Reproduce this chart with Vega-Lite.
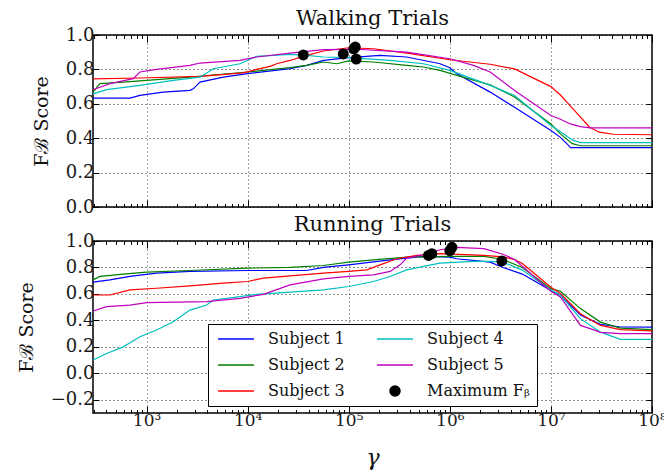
{
"$schema": "https://vega.github.io/schema/vega-lite/v6.json",
"autosize": {"type": "pad"},
"padding": {"left": 16, "top": 7, "right": 0, "bottom": 2},
"bounds": "flush",
"spacing": 34,
"config": {
  "font": "DejaVu Serif",
  "view": {"stroke": "#000", "strokeWidth": 1.5},
  "axis": {"domain": false, "labelFont": "DejaVu Serif", "labelFontSize": 18, "labelColor": "#1a1a1a", "tickColor": "#000", "tickWidth": 1, "gridColor": "#000", "gridDash": [1, 3], "gridWidth": 1, "gridOpacity": 0.85, "titleFont": "DejaVu Serif", "titleFontWeight": "normal", "titleColor": "#111"},
  "title": {"font": "DejaVu Serif", "fontSize": 21, "fontWeight": "normal", "color": "#111"}
},
"resolve": {"scale": {"color": "independent", "shape": "independent"}},
"vconcat": [
 {
  "width": 559, "height": 172,
  "title": {"text": "Walking Trials", "offset": -3},
  "layer": [
   {
    "data": {"name": "walk"},
    "mark": {"type": "line", "strokeWidth": 1.2},
    "encoding": {
     "x": {"field": "gamma", "type": "quantitative", "scale": {"type": "log", "domain": [295, 100000000], "nice": false},
       "axis": {"orient": "bottom", "title": null, "labels": false,
         "values": [300,400,500,600,700,800,900,1000,2000,3000,4000,5000,6000,7000,8000,9000,10000,20000,30000,40000,50000,60000,70000,80000,90000,100000,200000,300000,400000,500000,600000,700000,800000,900000,1000000,2000000,3000000,4000000,5000000,6000000,7000000,8000000,9000000,10000000,20000000,30000000,40000000,50000000,60000000,70000000,80000000,90000000,100000000],
         "tickSize": {"condition": {"test": "datum.value==1000||datum.value==10000||datum.value==100000||datum.value==1000000||datum.value==10000000||datum.value==100000000", "value": -7}, "value": -3.5},
         "gridOpacity": {"condition": {"test": "datum.value==1000||datum.value==10000||datum.value==100000||datum.value==1000000||datum.value==10000000", "value": 0.85}, "value": 0}}},
     "y": {"field": "score", "type": "quantitative", "scale": {"domain": [0, 1], "nice": false},
       "axis": {"title": "Fℬ Score", "titleFontSize": 19, "titlePadding": 14, "values": [0, 0.2, 0.4, 0.6, 0.8, 1.0], "format": ".1f", "tickSize": -6, "labelPadding": 5}},
     "color": {"field": "series", "type": "nominal", "legend": null,
       "scale": {"domain": ["Subject 1", "Subject 2", "Subject 3", "Subject 4", "Subject 5"], "range": ["#0000ff", "#008000", "#ff0000", "#00bfbf", "#bf00bf"]}}
    }
   },
   {
    "data": {"name": "walkMax"},
    "mark": {"type": "point", "filled": true, "size": 120, "opacity": 1, "color": "#000"},
    "encoding": {
     "x": {"field": "gamma", "type": "quantitative",
       "axis": {"orient": "top", "title": null, "labels": false, "grid": false,
         "values": [300,400,500,600,700,800,900,1000,2000,3000,4000,5000,6000,7000,8000,9000,10000,20000,30000,40000,50000,60000,70000,80000,90000,100000,200000,300000,400000,500000,600000,700000,800000,900000,1000000,2000000,3000000,4000000,5000000,6000000,7000000,8000000,9000000,10000000,20000000,30000000,40000000,50000000,60000000,70000000,80000000,90000000,100000000],
         "tickSize": {"condition": {"test": "datum.value==1000||datum.value==10000||datum.value==100000||datum.value==1000000||datum.value==10000000||datum.value==100000000", "value": -7}, "value": -3.5}}},
     "y": {"field": "score", "type": "quantitative",
       "axis": {"orient": "right", "title": null, "labels": false, "grid": false, "values": [0, 0.2, 0.4, 0.6, 0.8, 1.0], "tickSize": -6}}
    }
   }
  ],
  "resolve": {"axis": {"x": "independent", "y": "independent"}}
 },
 {
  "width": 559, "height": 172,
  "title": {"text": "Running Trials", "offset": -3},
  "layer": [
   {
    "data": {"name": "run"},
    "mark": {"type": "line", "strokeWidth": 1.2},
    "encoding": {
     "x": {"field": "gamma", "type": "quantitative", "scale": {"type": "log", "domain": [295, 100000000], "nice": false},
       "axis": {"orient": "bottom", "title": "γ", "titleFontSize": 22, "titleFontStyle": "italic", "titlePadding": 16, "labelFontSize": 17, "labelPadding": 6, "labelOverlap": false, "labelBound": false, "labelFlush": false,
         "labelExpr": "datum.value==1000?'10³':datum.value==10000?'10⁴':datum.value==100000?'10⁵':datum.value==1000000?'10⁶':datum.value==10000000?'10⁷':datum.value==100000000?'10⁸':''",
         "values": [300,400,500,600,700,800,900,1000,2000,3000,4000,5000,6000,7000,8000,9000,10000,20000,30000,40000,50000,60000,70000,80000,90000,100000,200000,300000,400000,500000,600000,700000,800000,900000,1000000,2000000,3000000,4000000,5000000,6000000,7000000,8000000,9000000,10000000,20000000,30000000,40000000,50000000,60000000,70000000,80000000,90000000,100000000],
         "tickSize": {"condition": {"test": "datum.value==1000||datum.value==10000||datum.value==100000||datum.value==1000000||datum.value==10000000||datum.value==100000000", "value": -7}, "value": -3.5},
         "gridOpacity": {"condition": {"test": "datum.value==1000||datum.value==10000||datum.value==100000||datum.value==1000000||datum.value==10000000", "value": 0.85}, "value": 0}}},
     "y": {"field": "score", "type": "quantitative", "scale": {"domain": [-0.3, 1], "nice": false},
       "axis": {"title": "Fℬ Score", "titleFontSize": 19, "titlePadding": 14, "values": [-0.2, 0, 0.2, 0.4, 0.6, 0.8, 1.0], "format": ".1f", "tickSize": -6, "labelPadding": 5}},
     "color": {"field": "series", "type": "nominal",
       "scale": {"domain": ["Subject 1", "Subject 2", "Subject 3", "Subject 4", "Subject 5", "Maximum Fᵦ"], "range": ["#0000ff", "#008000", "#ff0000", "#00bfbf", "#bf00bf", "#000000"]},
       "legend": {"orient": "none", "legendX": 115, "legendY": 83, "title": null, "columns": 2, "symbolSize": 100, "symbolStrokeWidth": 1.5, "labelFontSize": 16, "labelFont": "DejaVu Serif", "labelColor": "#111", "strokeColor": "#000", "fillColor": "#fff", "padding": 7, "rowPadding": 10, "columnPadding": 29, "symbolOffset": 13, "labelOffset": 24, "gridAlign": "each"}}
    }
   },
   {
    "data": {"name": "runMax"},
    "mark": {"type": "point", "filled": true, "size": 120, "opacity": 1},
    "encoding": {
     "x": {"field": "gamma", "type": "quantitative",
       "axis": {"orient": "top", "title": null, "labels": false, "grid": false,
         "values": [300,400,500,600,700,800,900,1000,2000,3000,4000,5000,6000,7000,8000,9000,10000,20000,30000,40000,50000,60000,70000,80000,90000,100000,200000,300000,400000,500000,600000,700000,800000,900000,1000000,2000000,3000000,4000000,5000000,6000000,7000000,8000000,9000000,10000000,20000000,30000000,40000000,50000000,60000000,70000000,80000000,90000000,100000000],
         "tickSize": {"condition": {"test": "datum.value==1000||datum.value==10000||datum.value==100000||datum.value==1000000||datum.value==10000000||datum.value==100000000", "value": -7}, "value": -3.5}}},
     "y": {"field": "score", "type": "quantitative",
       "axis": {"orient": "right", "title": null, "labels": false, "grid": false, "values": [-0.2, 0, 0.2, 0.4, 0.6, 0.8, 1.0], "tickSize": -6}},
     "color": {"field": "series", "type": "nominal"},
     "shape": {"field": "series", "type": "nominal",
       "scale": {"domain": ["Subject 1", "Subject 2", "Subject 3", "Subject 4", "Subject 5", "Maximum Fᵦ"], "range": ["M-3.6,0L3.6,0", "M-3.6,0L3.6,0", "M-3.6,0L3.6,0", "M-3.6,0L3.6,0", "M-3.6,0L3.6,0", "circle"]},
       "legend": {"orient": "none", "legendX": 115, "legendY": 83, "title": null, "columns": 2, "symbolSize": 100, "symbolStrokeWidth": 1.5, "labelFontSize": 16, "labelFont": "DejaVu Serif", "labelColor": "#111", "strokeColor": "#000", "fillColor": "#fff", "padding": 7, "rowPadding": 10, "columnPadding": 29, "symbolOffset": 13, "labelOffset": 24, "gridAlign": "each"}}
    }
   }
  ],
  "resolve": {"axis": {"x": "independent", "y": "independent"}}
 }
],
"datasets": {
 "walkMax": [
  {"series": "Maximum Fᵦ", "gamma": 35500, "score": 0.884},
  {"series": "Maximum Fᵦ", "gamma": 88300, "score": 0.89},
  {"series": "Maximum Fᵦ", "gamma": 116000, "score": 0.93},
  {"series": "Maximum Fᵦ", "gamma": 112000, "score": 0.92},
  {"series": "Maximum Fᵦ", "gamma": 118600, "score": 0.86}
 ],
 "runMax": [
  {"series": "Maximum Fᵦ", "gamma": 615000, "score": 0.891},
  {"series": "Maximum Fᵦ", "gamma": 664000, "score": 0.904},
  {"series": "Maximum Fᵦ", "gamma": 1000000, "score": 0.927},
  {"series": "Maximum Fᵦ", "gamma": 1050000, "score": 0.952},
  {"series": "Maximum Fᵦ", "gamma": 3270000, "score": 0.849}
 ],
 "walk": [
  {"series":"Subject 1","gamma":295,"score":0.633},{"series":"Subject 1","gamma":684,"score":0.633},{"series":"Subject 1","gamma":859,"score":0.649},{"series":"Subject 1","gamma":1462,"score":0.668},{"series":"Subject 1","gamma":2685,"score":0.678},{"series":"Subject 1","gamma":2897,"score":0.687},{"series":"Subject 1","gamma":3373,"score":0.726},{"series":"Subject 1","gamma":5741,"score":0.755},{"series":"Subject 1","gamma":10000,"score":0.775},{"series":"Subject 1","gamma":26240,"score":0.804},{"series":"Subject 1","gamma":38370,"score":0.823},{"series":"Subject 1","gamma":56110,"score":0.852},{"series":"Subject 1","gamma":100000,"score":0.868},{"series":"Subject 1","gamma":204200,"score":0.882},{"series":"Subject 1","gamma":374900,"score":0.872},{"series":"Subject 1","gamma":801700,"score":0.833},{"series":"Subject 1","gamma":1000000,"score":0.81},{"series":"Subject 1","gamma":1172000,"score":0.775},{"series":"Subject 1","gamma":2506000,"score":0.668},{"series":"Subject 1","gamma":4365000,"score":0.58},{"series":"Subject 1","gamma":10000000,"score":0.445},{"series":"Subject 1","gamma":12420000,"score":0.405},{"series":"Subject 1","gamma":14930000,"score":0.358},{"series":"Subject 1","gamma":15600000,"score":0.345},{"series":"Subject 1","gamma":100000000,"score":0.345},
  {"series":"Subject 2","gamma":295,"score":0.668},{"series":"Subject 2","gamma":345,"score":0.717},{"series":"Subject 2","gamma":588,"score":0.726},{"series":"Subject 2","gamma":1000,"score":0.736},{"series":"Subject 2","gamma":2685,"score":0.755},{"series":"Subject 2","gamma":10000,"score":0.785},{"series":"Subject 2","gamma":14290,"score":0.794},{"series":"Subject 2","gamma":26240,"score":0.81},{"series":"Subject 2","gamma":38370,"score":0.823},{"series":"Subject 2","gamma":56110,"score":0.843},{"series":"Subject 2","gamma":76030,"score":0.833},{"series":"Subject 2","gamma":100000,"score":0.849},{"series":"Subject 2","gamma":175400,"score":0.843},{"series":"Subject 2","gamma":374900,"score":0.823},{"series":"Subject 2","gamma":548300,"score":0.814},{"series":"Subject 2","gamma":801700,"score":0.794},{"series":"Subject 2","gamma":1172000,"score":0.765},{"series":"Subject 2","gamma":2506000,"score":0.71},{"series":"Subject 2","gamma":4365000,"score":0.64},{"series":"Subject 2","gamma":10000000,"score":0.483},{"series":"Subject 2","gamma":12420000,"score":0.425},{"series":"Subject 2","gamma":16290000,"score":0.368},{"series":"Subject 2","gamma":19590000,"score":0.356},{"series":"Subject 2","gamma":100000000,"score":0.356},
  {"series":"Subject 3","gamma":295,"score":0.745},{"series":"Subject 3","gamma":859,"score":0.75},{"series":"Subject 3","gamma":3373,"score":0.76},{"series":"Subject 3","gamma":9057,"score":0.78},{"series":"Subject 3","gamma":12270,"score":0.8},{"series":"Subject 3","gamma":16630,"score":0.818},{"series":"Subject 3","gamma":19360,"score":0.833},{"series":"Subject 3","gamma":26240,"score":0.852},{"series":"Subject 3","gamma":35560,"score":0.876},{"series":"Subject 3","gamma":56110,"score":0.907},{"series":"Subject 3","gamma":100000,"score":0.926},{"series":"Subject 3","gamma":175400,"score":0.92},{"series":"Subject 3","gamma":374900,"score":0.895},{"series":"Subject 3","gamma":1000000,"score":0.856},{"series":"Subject 3","gamma":2506000,"score":0.83},{"series":"Subject 3","gamma":4365000,"score":0.803},{"series":"Subject 3","gamma":10000000,"score":0.7},{"series":"Subject 3","gamma":12420000,"score":0.651},{"series":"Subject 3","gamma":14930000,"score":0.6},{"series":"Subject 3","gamma":24150000,"score":0.464},{"series":"Subject 3","gamma":30060000,"score":0.435},{"series":"Subject 3","gamma":41590000,"score":0.423},{"series":"Subject 3","gamma":100000000,"score":0.42},
  {"series":"Subject 4","gamma":295,"score":0.658},{"series":"Subject 4","gamma":402,"score":0.682},{"series":"Subject 4","gamma":859,"score":0.707},{"series":"Subject 4","gamma":1836,"score":0.736},{"series":"Subject 4","gamma":3373,"score":0.755},{"series":"Subject 4","gamma":4571,"score":0.804},{"series":"Subject 4","gamma":8395,"score":0.833},{"series":"Subject 4","gamma":12270,"score":0.876},{"series":"Subject 4","gamma":26240,"score":0.887},{"series":"Subject 4","gamma":38370,"score":0.882},{"series":"Subject 4","gamma":56110,"score":0.872},{"series":"Subject 4","gamma":100000,"score":0.868},{"series":"Subject 4","gamma":256500,"score":0.852},{"series":"Subject 4","gamma":548300,"score":0.833},{"series":"Subject 4","gamma":1000000,"score":0.794},{"series":"Subject 4","gamma":2506000,"score":0.707},{"series":"Subject 4","gamma":4365000,"score":0.648},{"series":"Subject 4","gamma":10000000,"score":0.474},{"series":"Subject 4","gamma":12420000,"score":0.438},{"series":"Subject 4","gamma":16290000,"score":0.39},{"series":"Subject 4","gamma":19590000,"score":0.374},{"series":"Subject 4","gamma":100000000,"score":0.374},
  {"series":"Subject 5","gamma":295,"score":0.682},{"series":"Subject 5","gamma":434,"score":0.717},{"series":"Subject 5","gamma":738,"score":0.746},{"series":"Subject 5","gamma":859,"score":0.785},{"series":"Subject 5","gamma":1256,"score":0.8},{"series":"Subject 5","gamma":2685,"score":0.823},{"series":"Subject 5","gamma":3373,"score":0.837},{"series":"Subject 5","gamma":8395,"score":0.852},{"series":"Subject 5","gamma":12270,"score":0.872},{"series":"Subject 5","gamma":26240,"score":0.895},{"series":"Subject 5","gamma":56110,"score":0.915},{"series":"Subject 5","gamma":120000,"score":0.917},{"series":"Subject 5","gamma":374900,"score":0.9},{"series":"Subject 5","gamma":1000000,"score":0.862},{"series":"Subject 5","gamma":1714000,"score":0.823},{"series":"Subject 5","gamma":2506000,"score":0.785},{"series":"Subject 5","gamma":4365000,"score":0.677},{"series":"Subject 5","gamma":10000000,"score":0.532},{"series":"Subject 5","gamma":12420000,"score":0.51},{"series":"Subject 5","gamma":15600000,"score":0.483},{"series":"Subject 5","gamma":19590000,"score":0.467},{"series":"Subject 5","gamma":24600000,"score":0.46},{"series":"Subject 5","gamma":100000000,"score":0.46}
 ],
 "run": [
  {"series":"Subject 1","gamma":295,"score":0.689},{"series":"Subject 1","gamma":434,"score":0.706},{"series":"Subject 1","gamma":684,"score":0.732},{"series":"Subject 1","gamma":1256,"score":0.757},{"series":"Subject 1","gamma":2685,"score":0.77},{"series":"Subject 1","gamma":10000,"score":0.777},{"series":"Subject 1","gamma":38370,"score":0.777},{"series":"Subject 1","gamma":56110,"score":0.8},{"series":"Subject 1","gamma":100000,"score":0.82},{"series":"Subject 1","gamma":256500,"score":0.858},{"series":"Subject 1","gamma":548300,"score":0.884},{"series":"Subject 1","gamma":1000000,"score":0.878},{"series":"Subject 1","gamma":1172000,"score":0.866},{"series":"Subject 1","gamma":2506000,"score":0.84},{"series":"Subject 1","gamma":3357000,"score":0.8},{"series":"Subject 1","gamma":5212000,"score":0.75},{"series":"Subject 1","gamma":10000000,"score":0.627},{"series":"Subject 1","gamma":12420000,"score":0.59},{"series":"Subject 1","gamma":19590000,"score":0.44},{"series":"Subject 1","gamma":30900000,"score":0.37},{"series":"Subject 1","gamma":48750000,"score":0.35},{"series":"Subject 1","gamma":100000000,"score":0.349},
  {"series":"Subject 2","gamma":295,"score":0.706},{"series":"Subject 2","gamma":345,"score":0.732},{"series":"Subject 2","gamma":588,"score":0.749},{"series":"Subject 2","gamma":1000,"score":0.765},{"series":"Subject 2","gamma":2685,"score":0.777},{"series":"Subject 2","gamma":10000,"score":0.795},{"series":"Subject 2","gamma":26240,"score":0.8},{"series":"Subject 2","gamma":56110,"score":0.815},{"series":"Subject 2","gamma":100000,"score":0.84},{"series":"Subject 2","gamma":175400,"score":0.858},{"series":"Subject 2","gamma":374900,"score":0.878},{"series":"Subject 2","gamma":548300,"score":0.88},{"series":"Subject 2","gamma":1000000,"score":0.884},{"series":"Subject 2","gamma":2168000,"score":0.884},{"series":"Subject 2","gamma":3357000,"score":0.86},{"series":"Subject 2","gamma":5212000,"score":0.8},{"series":"Subject 2","gamma":10000000,"score":0.64},{"series":"Subject 2","gamma":12420000,"score":0.62},{"series":"Subject 2","gamma":19590000,"score":0.489},{"series":"Subject 2","gamma":30900000,"score":0.387},{"series":"Subject 2","gamma":48750000,"score":0.342},{"series":"Subject 2","gamma":100000000,"score":0.33},
  {"series":"Subject 3","gamma":295,"score":0.592},{"series":"Subject 3","gamma":434,"score":0.592},{"series":"Subject 3","gamma":684,"score":0.63},{"series":"Subject 3","gamma":1256,"score":0.643},{"series":"Subject 3","gamma":2685,"score":0.661},{"series":"Subject 3","gamma":5741,"score":0.681},{"series":"Subject 3","gamma":10000,"score":0.694},{"series":"Subject 3","gamma":14290,"score":0.719},{"series":"Subject 3","gamma":26240,"score":0.737},{"series":"Subject 3","gamma":56110,"score":0.757},{"series":"Subject 3","gamma":100000,"score":0.77},{"series":"Subject 3","gamma":150700,"score":0.782},{"series":"Subject 3","gamma":204200,"score":0.82},{"series":"Subject 3","gamma":298600,"score":0.866},{"series":"Subject 3","gamma":471000,"score":0.891},{"series":"Subject 3","gamma":801700,"score":0.904},{"series":"Subject 3","gamma":2168000,"score":0.892},{"series":"Subject 3","gamma":3357000,"score":0.88},{"series":"Subject 3","gamma":4365000,"score":0.86},{"series":"Subject 3","gamma":5212000,"score":0.83},{"series":"Subject 3","gamma":10000000,"score":0.65},{"series":"Subject 3","gamma":12420000,"score":0.603},{"series":"Subject 3","gamma":19590000,"score":0.45},{"series":"Subject 3","gamma":30900000,"score":0.362},{"series":"Subject 3","gamma":48750000,"score":0.33},{"series":"Subject 3","gamma":100000000,"score":0.32},
  {"series":"Subject 4","gamma":295,"score":0.1},{"series":"Subject 4","gamma":402,"score":0.15},{"series":"Subject 4","gamma":588,"score":0.2},{"series":"Subject 4","gamma":859,"score":0.276},{"series":"Subject 4","gamma":1256,"score":0.327},{"series":"Subject 4","gamma":1836,"score":0.39},{"series":"Subject 4","gamma":2685,"score":0.478},{"series":"Subject 4","gamma":3926,"score":0.516},{"series":"Subject 4","gamma":4571,"score":0.554},{"series":"Subject 4","gamma":8395,"score":0.58},{"series":"Subject 4","gamma":12270,"score":0.597},{"series":"Subject 4","gamma":56110,"score":0.63},{"series":"Subject 4","gamma":100000,"score":0.656},{"series":"Subject 4","gamma":175400,"score":0.694},{"series":"Subject 4","gamma":256500,"score":0.732},{"series":"Subject 4","gamma":374900,"score":0.782},{"series":"Subject 4","gamma":548300,"score":0.808},{"series":"Subject 4","gamma":801700,"score":0.833},{"series":"Subject 4","gamma":1714000,"score":0.846},{"series":"Subject 4","gamma":2506000,"score":0.846},{"series":"Subject 4","gamma":3357000,"score":0.84},{"series":"Subject 4","gamma":5212000,"score":0.78},{"series":"Subject 4","gamma":10000000,"score":0.63},{"series":"Subject 4","gamma":12420000,"score":0.59},{"series":"Subject 4","gamma":19590000,"score":0.413},{"series":"Subject 4","gamma":30900000,"score":0.311},{"series":"Subject 4","gamma":48750000,"score":0.256},{"series":"Subject 4","gamma":100000000,"score":0.256},
  {"series":"Subject 5","gamma":295,"score":0.471},{"series":"Subject 5","gamma":402,"score":0.504},{"series":"Subject 5","gamma":684,"score":0.516},{"series":"Subject 5","gamma":1000,"score":0.534},{"series":"Subject 5","gamma":3926,"score":0.542},{"series":"Subject 5","gamma":8395,"score":0.567},{"series":"Subject 5","gamma":14290,"score":0.597},{"series":"Subject 5","gamma":26240,"score":0.668},{"series":"Subject 5","gamma":56110,"score":0.714},{"series":"Subject 5","gamma":100000,"score":0.732},{"series":"Subject 5","gamma":175400,"score":0.744},{"series":"Subject 5","gamma":256500,"score":0.77},{"series":"Subject 5","gamma":322100,"score":0.82},{"series":"Subject 5","gamma":374900,"score":0.871},{"series":"Subject 5","gamma":548300,"score":0.896},{"series":"Subject 5","gamma":801700,"score":0.934},{"series":"Subject 5","gamma":1172000,"score":0.952},{"series":"Subject 5","gamma":2168000,"score":0.942},{"series":"Subject 5","gamma":3357000,"score":0.9},{"series":"Subject 5","gamma":4365000,"score":0.86},{"series":"Subject 5","gamma":10000000,"score":0.62},{"series":"Subject 5","gamma":12420000,"score":0.577},{"series":"Subject 5","gamma":19590000,"score":0.362},{"series":"Subject 5","gamma":25760000,"score":0.332},{"series":"Subject 5","gamma":30900000,"score":0.31},{"series":"Subject 5","gamma":48750000,"score":0.3},{"series":"Subject 5","gamma":100000000,"score":0.3}
 ]
}
}
